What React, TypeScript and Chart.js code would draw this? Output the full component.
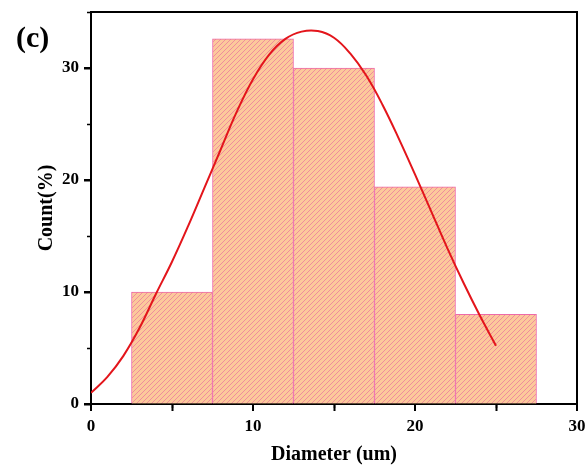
import React, { useEffect, useRef } from "react";
import { Chart, registerables } from "chart.js";

Chart.register(...registerables);

const binCenters = [5, 10, 15, 20, 25];
const binCounts = [10, 32.6, 30, 19.4, 8];
const fitX = [0, 1, 2, 3, 4, 5, 6, 7, 8, 9, 10, 11, 12, 13, 14, 15, 16, 17, 18, 19, 20, 21, 22, 23, 24, 25];
const fitY = [1.0, 2.4, 4.3, 6.8, 9.8, 12.7, 15.9, 19.3, 22.7, 26.1, 29.0, 31.2, 32.6, 33.25, 33.3, 32.7, 31.3, 29.3, 26.7, 23.7, 20.5, 17.2, 13.9, 10.8, 7.9, 5.2];
const xTicks = [0, 10, 20, 30];
const yTicks = [0, 10, 20, 30];
const xMinor = [5, 15, 25];
const yMinor = [5, 15, 25, 35];

const SERIF = "'Liberation Serif', 'Times New Roman', serif";

function makeHatch(): CanvasPattern | string {
  const s = 5;
  const c = document.createElement("canvas");
  c.width = s;
  c.height = s;
  const g = c.getContext("2d");
  if (!g) return "#FCC99B";
  g.fillStyle = "#FCC99B";
  g.fillRect(0, 0, s, s);
  g.strokeStyle = "#EE8C9C";
  g.lineWidth = 1;
  g.beginPath();
  g.moveTo(-1, s + 1);
  g.lineTo(s + 1, -1);
  g.moveTo(-1, 1);
  g.lineTo(1, -1);
  g.moveTo(s - 1, s + 1);
  g.lineTo(s + 1, s - 1);
  g.stroke();
  const p = g.createPattern(c, "repeat");
  return p || "#FCC99B";
}

export default function App() {
  const ref = useRef<HTMLCanvasElement>(null);
  useEffect(() => {
    document.body.style.margin = "0";
    const canvas = ref.current;
    if (!canvas) return;
    const hatch = makeHatch();

    const framePlugin = {
      id: "frame",
      afterDraw(chart: any) {
        const { ctx, chartArea } = chart;
        const xs = chart.scales.x;
        const ys = chart.scales.y;
        ctx.save();
        ctx.strokeStyle = "#000";
        ctx.lineWidth = 2;
        ctx.beginPath();
        ctx.moveTo(chartArea.left, chartArea.top);
        ctx.lineTo(chartArea.right, chartArea.top);
        ctx.lineTo(chartArea.right, chartArea.bottom);
        ctx.stroke();
        // major ticks
        ctx.lineWidth = 2;
        ctx.beginPath();
        for (const v of xTicks) {
          const px = Math.round(xs.getPixelForValue(v));
          ctx.moveTo(px, chartArea.bottom);
          ctx.lineTo(px, chartArea.bottom + 7);
        }
        for (const v of yTicks) {
          const py = Math.round(ys.getPixelForValue(v));
          ctx.moveTo(chartArea.left, py);
          ctx.lineTo(chartArea.left - 7, py);
        }
        ctx.stroke();
        // minor ticks
        ctx.lineWidth = 1.5;
        ctx.beginPath();
        for (const v of xMinor) {
          const px = Math.round(xs.getPixelForValue(v)) + 0.5;
          ctx.moveTo(px, chartArea.bottom);
          ctx.lineTo(px, chartArea.bottom + 4);
        }
        for (const v of yMinor) {
          const py = Math.round(ys.getPixelForValue(v)) + 0.5;
          ctx.moveTo(chartArea.left, py);
          ctx.lineTo(chartArea.left - 4, py);
        }
        ctx.stroke();
        ctx.fillStyle = "#000";
        ctx.font = `bold 30px ${SERIF}`;
        ctx.textAlign = "left";
        ctx.textBaseline = "alphabetic";
        ctx.fillText("(c)", 16, 47);
        ctx.restore();
      },
    };

    const chart = new Chart(canvas, {
      type: "bar",
      data: {
        datasets: [
          {
            type: "line",
            data: fitX.map((x, i) => ({ x, y: fitY[i] })),
            borderColor: "#E3151B",
            borderWidth: 2,
            pointRadius: 0,
            tension: 0.4,
            fill: false,
            order: 0,
          } as any,
          {
            type: "bar",
            data: binCenters.map((x, i) => ({ x, y: binCounts[i] })),
            backgroundColor: hatch as any,
            borderColor: "#EE6AA8",
            borderWidth: 1,
            barPercentage: 1,
            categoryPercentage: 1,
            order: 1,
          } as any,
        ],
      },
      options: {
        responsive: false,
        animation: false,
        layout: { padding: { top: 12, right: 10, left: 0, bottom: 0 } },
        plugins: { legend: { display: false }, tooltip: { enabled: false } },
        scales: {
          x: {
            type: "linear",
            min: 0,
            max: 30,
            offset: false,
            afterBuildTicks: (s: any) => {
              s.ticks = xTicks.map((v) => ({ value: v }));
            },
            afterFit: (s: any) => {
              s.height = 65;
              s.paddingLeft = 0;
              s.paddingRight = 0;
            },
            grid: {
              drawOnChartArea: false,
              drawTicks: true,
              tickLength: 7,
              tickWidth: 2,
              tickColor: "#000",
            },
            border: { color: "#000", width: 2 },
            ticks: {
              color: "#000",
              padding: 5,
              maxRotation: 0,
              font: { family: SERIF, size: 17, weight: "bold" },
            },
            title: {
              display: true,
              text: "Diameter (um)",
              color: "#000",
              font: { family: SERIF, size: 20, weight: "bold" },
              padding: { top: 0, bottom: 2 },
            },
          },
          y: {
            type: "linear",
            min: 0,
            max: 35,
            afterBuildTicks: (s: any) => {
              s.ticks = yTicks.map((v) => ({ value: v }));
            },
            afterFit: (s: any) => {
              s.width = 91;
              s.paddingTop = 0;
              s.paddingBottom = 0;
            },
            grid: {
              drawOnChartArea: false,
              drawTicks: true,
              tickLength: 7,
              tickWidth: 2,
              tickColor: "#000",
            },
            border: { color: "#000", width: 2 },
            ticks: {
              color: "#000",
              padding: 5,
              font: { family: SERIF, size: 17, weight: "bold" },
            },
            title: {
              display: true,
              text: "Count(%)",
              color: "#000",
              font: { family: SERIF, size: 20, weight: "bold" },
              padding: { top: 35, bottom: 0 },
            },
          },
        },
      },
      plugins: [framePlugin],
    } as any);
    return () => chart.destroy();
  }, []);
  return <canvas ref={ref} width={587} height={469} style={{ display: "block" }} />;
}
